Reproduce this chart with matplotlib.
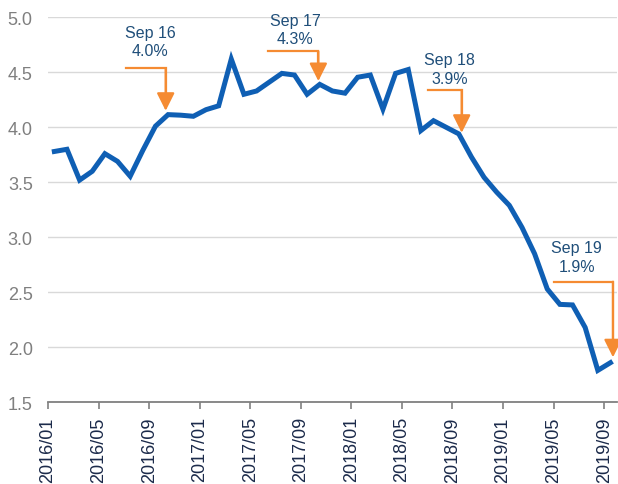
import matplotlib
matplotlib.use("Agg")
import matplotlib.pyplot as plt

plt.rcParams['font.family'] = ['Liberation Sans', 'DejaVu Sans']

# monthly series 2016/01 - 2019/09
months = [f"{y}/{m:02d}" for y in (2016, 2017, 2018, 2019) for m in range(1, 13)][:45]
values = [3.78, 3.80, 3.52, 3.60, 3.76, 3.69, 3.555, 3.79, 4.01, 4.115,
          4.11, 4.10, 4.16, 4.195, 4.62, 4.30, 4.33, 4.41, 4.49, 4.475,
          4.30, 4.39, 4.33, 4.31, 4.455, 4.475, 4.165, 4.49, 4.525, 3.97,
          4.06, 4.00, 3.94, 3.73, 3.545, 3.41, 3.29, 3.09, 2.85, 2.53,
          2.39, 2.385, 2.18, 1.79, 1.86]

# callouts
labels = ["Sep 16\n4.0%", "Sep 17\n4.3%", "Sep 18\n3.9%", "Sep 19\n1.9%"]
label_xy = [(8.07, 4.78), (19.54, 4.89), (31.8, 4.532), (41.83, 2.823)]
# elbow arrows: (x start, x corner, y horizontal, y tip)
arrows = [(6.17, 9.31, 4.536, 4.15), (17.43, 21.39, 4.69, 4.42),
          (30.04, 32.73, 4.339, 3.95), (40.03, 44.7, 2.596, 1.909)]

blue = '#0F5FB4'
orange = '#F58B32'
txtblue = '#1F4E79'

fig = plt.figure(figsize=(6.18, 4.85), dpi=100)
ax = fig.add_axes([0.0777, 0.1685, 0.9203, 0.7938])

xs = [i + 0.5 for i in range(len(values))]
ax.plot(xs, values, color=blue, lw=3.6, solid_joinstyle='miter', zorder=3)

ax.set_xlim(0, 45)
ax.set_ylim(1.5, 5.0)
ax.set_yticks([1.5, 2.0, 2.5, 3.0, 3.5, 4.0, 4.5, 5.0])
ax.set_yticklabels([f"{v:.1f}" for v in ax.get_yticks()], color='#7F7F7F', fontsize=13)
ax.set_xticks(range(0, 45, 4))
ax.set_xticklabels(months[0::4], rotation=90, color='#1B2A4A', fontsize=13)
ax.tick_params(axis='y', length=0, pad=11)
ax.tick_params(axis='x', length=5, width=1.2, color='#808080', direction='out', pad=5)
ax.grid(axis='y', color='#D9D9D9', lw=1.0)
ax.set_axisbelow(True)
for s in ('left', 'right', 'top'):
    ax.spines[s].set_visible(False)
ax.spines['bottom'].set_color('#808080')
ax.spines['bottom'].set_linewidth(1.3)

for lab, (tx, ty) in zip(labels, label_xy):
    ax.text(tx, ty, lab, ha='center', va='center', color=txtblue, fontsize=11.5,
            linespacing=1.3, zorder=5)

for x0, x1, yh, yt in arrows:
    ax.plot([x0, x1, x1], [yh, yh, yt + 0.1], color=orange, lw=1.6, zorder=4,
            solid_joinstyle='miter', clip_on=False)
    ax.annotate('', xy=(x1, yt), xytext=(x1, yh),
                arrowprops=dict(arrowstyle='-|>', color=orange, lw=1.6,
                                mutation_scale=27, shrinkA=0, shrinkB=0),
                annotation_clip=False, zorder=4)

fig.savefig('out.png', dpi=100)
